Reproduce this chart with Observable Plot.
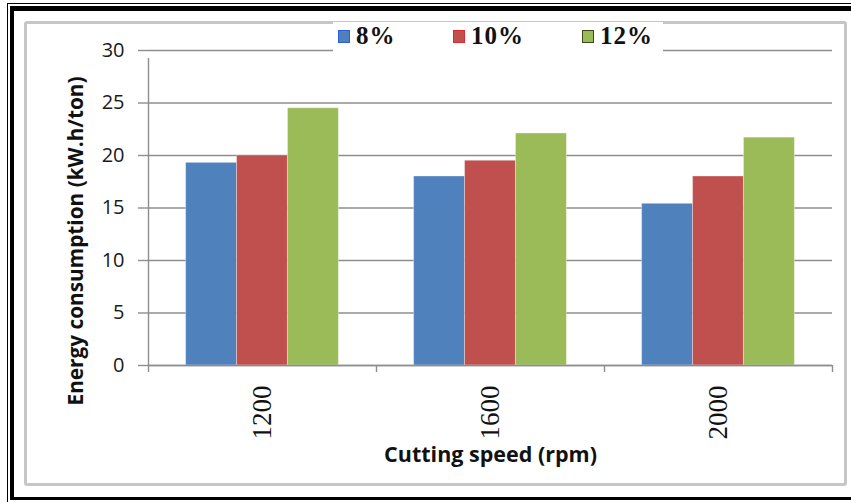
<!DOCTYPE html>
<html>
<head>
<meta charset="utf-8">
<script src="https://cdn.jsdelivr.net/npm/d3@7"></script>
<script src="https://cdn.jsdelivr.net/npm/@observablehq/plot@0.6"></script>
<style>
  body { margin: 0; background: #fff; }
  #page { position: relative; width: 851px; height: 502px; overflow: hidden; background: #fff; }
  .line-thin { position: absolute; left: 7px; top: 3px; right: -20px; bottom: -20px;
               border-left: 1px solid #000; border-top: 1px solid #000; }
  .line-thick { position: absolute; left: 10px; top: 6px; right: -20px; bottom: 2px;
                border-left: 4px solid #000; border-top: 5px solid #000; border-bottom: 3px solid #000; }
  .panel { position: absolute; left: 24px; top: 21px; width: 817px; height: 459px;
           border: 3px solid #c6c6c6; border-radius: 3px; }
  #chart { position: absolute; left: 0; top: 0; }
  #legend { position: absolute; left: 333px; top: 22px; width: 330px; height: 30px; background: #fff;
            font-family: "Liberation Serif", serif; font-weight: bold; font-size: 25px; color: #111; }
  .item { position: absolute; top: 0px; display: flex; align-items: center; letter-spacing: 1px; }
  .swatch { width: 10px; height: 11px; margin-right: 6px; border: 1px solid; }
</style>
</head>
<body>
<div id="page">
  <div class="line-thin"></div>
  <div class="line-thick"></div>
  <div class="panel"></div>
  <div id="chart"></div>
  <div id="legend"></div>
</div>
<script>
// Cutting speeds (rpm) and the three moisture levels
const speeds = [1200, 1600, 2000];
const series = ["8%", "10%", "12%"];
const colors = ["#4F81BD", "#C0504D", "#9BBB59"];
const swatchBorders = ["#2a5bd8", "#e02a2a", "#3a4a1a"];

// Energy consumption (kW.h/ton) per speed, one array per moisture level
const e8 = [19.3, 18.0, 15.4];
const e10 = [20.0, 19.5, 18.0];
const e12 = [24.5, 22.1, 21.7];
const yTicks = [0, 5, 10, 15, 20, 25, 30];

const values = [e8, e10, e12];
const step = speeds[1] - speeds[0];     // spacing between speed groups
const groupFrac = 0.67;                 // share of each group taken up by bars
const barW = step * groupFrac / series.length;

const rows = speeds.flatMap((s, i) => series.map((k, j) => {
  const x1 = s - step * groupFrac / 2 + j * barW;
  return { speed: s, series: k, value: values[j][i], x1, x2: x1 + barW };
}));
const bounds = [...speeds.map(s => s - step / 2), speeds[speeds.length - 1] + step / 2];

const grid = "#8e8e8e";
const sans = "'Open Sans', sans-serif";

const chart = Plot.plot({
  width: 851,
  height: 502,
  marginLeft: 148,
  marginRight: 19,
  marginTop: 50,
  marginBottom: 137,
  style: { background: "transparent", overflow: "visible" },
  x: { type: "linear", domain: [bounds[0], bounds[bounds.length - 1]], axis: null },
  y: { domain: [0, 30], axis: null },
  color: { domain: series, range: colors },
  marks: [
    Plot.gridY(yTicks, { stroke: grid, strokeOpacity: 1, strokeWidth: 1.4 }),
    Plot.rectY(rows, { x1: "x1", x2: "x2", y: "value", fill: "series", stroke: "#ffffff", strokeOpacity: 0.35, strokeWidth: 1 }),
    Plot.ruleY([0], { stroke: grid, strokeWidth: 1.4 }),
    Plot.ruleX([bounds[0]], { y1: 0, y2: 30, insetBottom: -8, stroke: grid, strokeWidth: 1.4 }),
    Plot.axisY(yTicks, { tickSize: 10, tickPadding: 14, stroke: grid, strokeWidth: 1.4, fill: "#1a1a1a",
                         fontSize: 20, fontFamily: sans, label: null }),
    Plot.axisX(bounds, { tickSize: 7, stroke: grid, strokeWidth: 1.4, tickFormat: () => "", label: null }),
    Plot.axisX(speeds, { tickSize: 0, tickPadding: 20, tickRotate: -90, tickFormat: d => String(d),
                         fontSize: 27, fontFamily: "'Liberation Serif', serif", fill: "#111", label: null }),
    Plot.text(["Energy consumption (kW.h/ton)"], { frameAnchor: "left", textAnchor: "middle", rotate: -90,
                dx: -72, dy: 33, fontSize: 20.8, fontWeight: "bold", fontFamily: sans, fill: "#111" }),
    Plot.text(["Cutting speed (rpm)"], { frameAnchor: "bottom", dy: 96,
                fontSize: 21.5, fontWeight: "bold", fontFamily: sans, fill: "#111" })
  ]
});
document.getElementById("chart").append(chart);

// Legend above the plot area
const legend = document.getElementById("legend");
const itemLeft = [5, 120, 249];
series.forEach((k, j) => {
  const item = document.createElement("div");
  item.className = "item";
  item.style.left = itemLeft[j] + "px";
  const sw = document.createElement("span");
  sw.className = "swatch";
  sw.style.background = colors[j];
  sw.style.borderColor = swatchBorders[j];
  const label = document.createElement("span");
  label.textContent = k;
  item.append(sw, label);
  legend.append(item);
});
</script>
</body>
</html>
